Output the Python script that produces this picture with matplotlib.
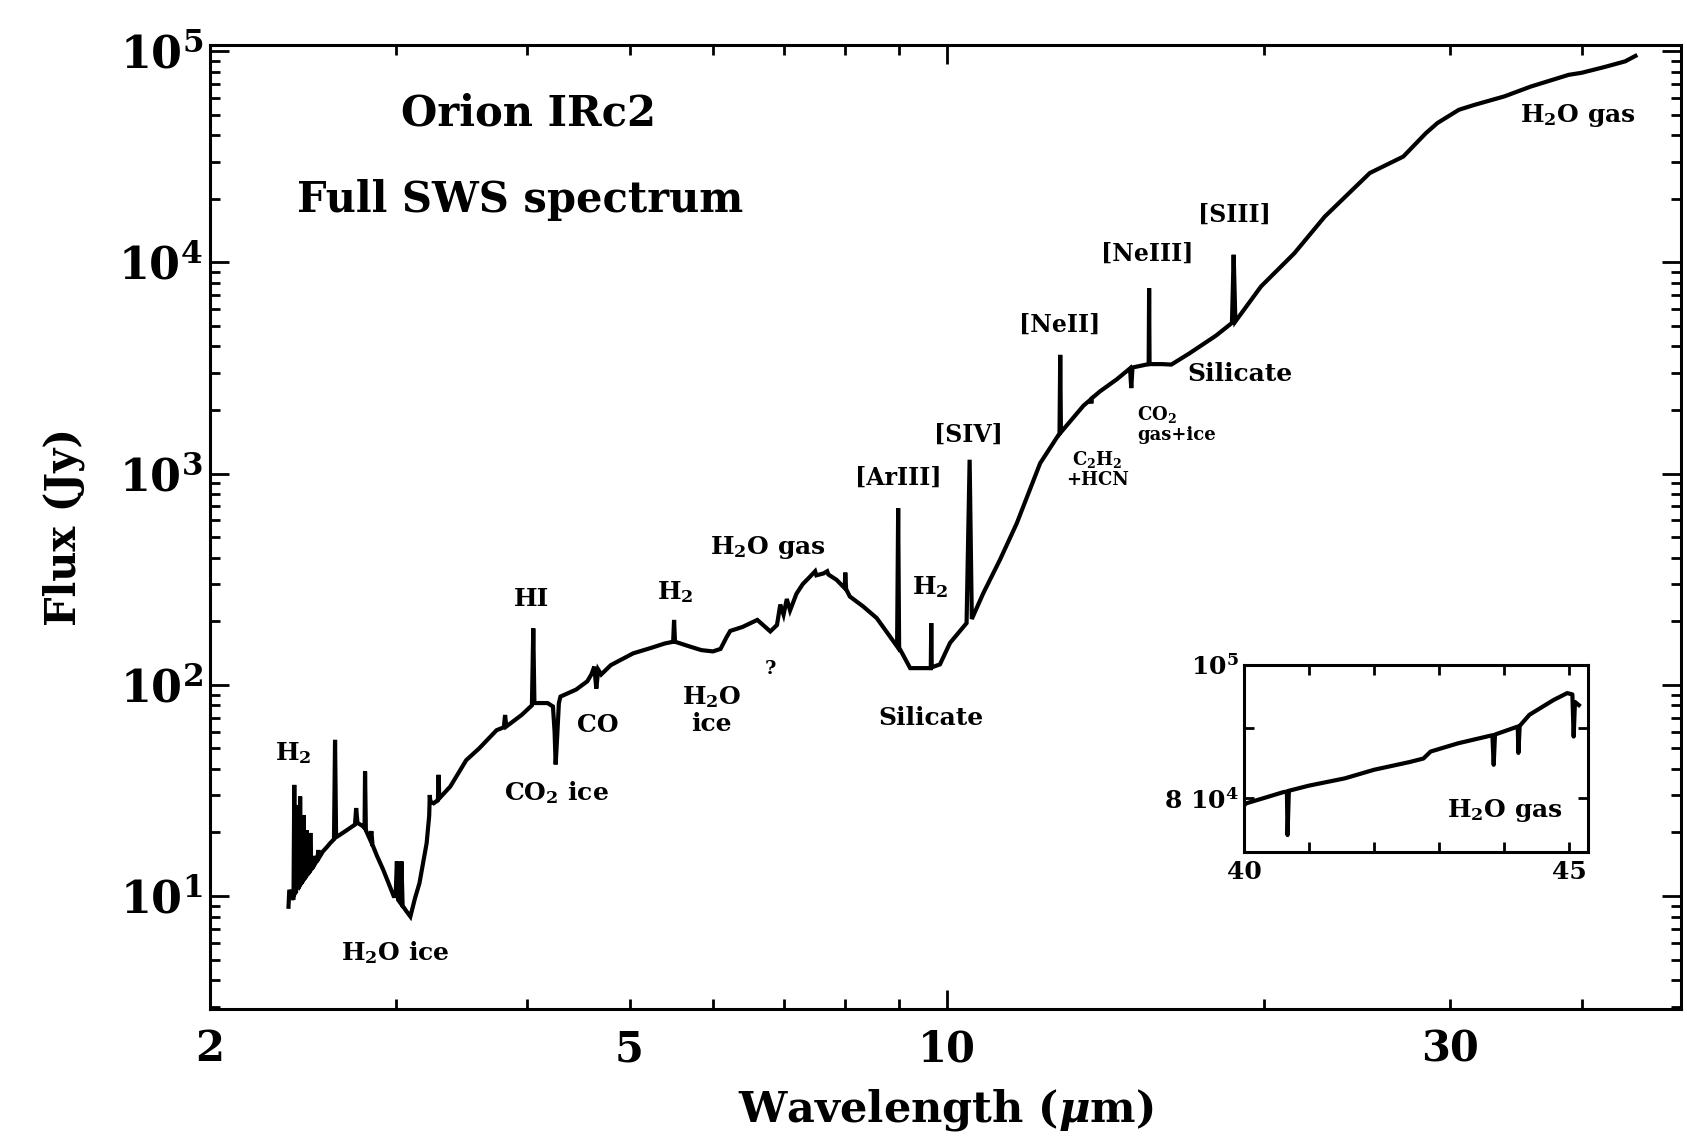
import matplotlib
matplotlib.use('Agg')
import matplotlib.pyplot as plt
from matplotlib.ticker import FixedLocator, FixedFormatter, NullFormatter, NullLocator

plt.rcParams['font.family'] = ['DejaVu Serif']
plt.rcParams['font.weight'] = 'bold'
plt.rcParams['axes.labelweight'] = 'bold'
plt.rcParams['mathtext.fontset'] = 'custom'
plt.rcParams['mathtext.rm'] = 'DejaVu Serif:bold'
plt.rcParams['mathtext.bf'] = 'DejaVu Serif:bold'
plt.rcParams['mathtext.it'] = 'DejaVu Serif:italic:bold'
plt.rcParams['mathtext.default'] = 'rm'

# ---------------- data ----------------
wavelength = [
    2.374, 2.378, 2.392, 2.400, 2.404, 2.408, 2.414, 2.418, 2.423, 2.430,
    2.435, 2.440, 2.447, 2.453, 2.458, 2.466, 2.470, 2.475, 2.486, 2.490,
    2.495, 2.505, 2.510, 2.515, 2.528, 2.534, 2.540, 2.560, 2.580, 2.600,
    2.622, 2.628, 2.634, 2.660, 2.700, 2.745, 2.752, 2.760, 2.790, 2.803,
    2.806, 2.811, 2.837, 2.845, 2.852, 2.880, 2.920, 2.960, 2.987, 3.000,
    3.008, 3.016, 3.030, 3.038, 3.046, 3.070, 3.098, 3.130, 3.160, 3.210,
    3.228, 3.232, 3.236, 3.260, 3.290, 3.295, 3.300, 3.380, 3.500, 3.600,
    3.740, 3.800, 3.810, 3.820, 3.950, 4.040, 4.052, 4.062, 4.180, 4.230,
    4.245, 4.255, 4.270, 4.285, 4.300, 4.450, 4.560, 4.600, 4.630, 4.650,
    4.670, 4.700, 4.800, 5.040, 5.250, 5.400, 5.500, 5.511, 5.522, 5.700,
    5.850, 6.000, 6.100, 6.180, 6.230, 6.400, 6.610, 6.800, 6.900, 6.950,
    7.000, 7.050, 7.100, 7.200, 7.300, 7.420, 7.500, 7.520, 7.640, 7.700,
    7.720, 7.860, 8.000, 8.010, 8.025, 8.090, 8.330, 8.580, 8.970, 8.991,
    9.010, 9.230, 9.570, 9.655, 9.665, 9.675, 9.850, 10.07, 10.44, 10.51,
    10.56, 10.83, 11.23, 11.65, 12.26, 12.79, 12.81, 12.83, 13.48, 13.70,
    13.71, 13.72, 13.97, 14.50, 14.92, 14.96, 15.00, 15.54, 15.555, 15.57,
    16.00, 16.33, 17.00, 18.00, 18.64, 18.71, 18.78, 19.86, 21.37, 22.83,
    25.19, 27.10, 28.47, 29.20, 30.60, 31.66, 33.80, 35.80, 38.90, 40.00,
    42.00, 44.00, 45.00,
]
flux = [
    8.9, 10.7, 10.0, 9.6, 33.6, 10.3, 10.5, 27.0, 10.8, 11.2,
    29.6, 11.5, 11.8, 24.2, 12.1, 12.4, 20.5, 12.7, 13.1, 19.9,
    13.4, 13.8, 15.5, 14.2, 14.8, 16.5, 15.3, 16.3, 17.0, 17.8,
    18.6, 54.9, 19.0, 19.6, 20.6, 21.8, 26.1, 22.2, 21.5, 21.0,
    38.9, 20.5, 18.5, 20.3, 17.5, 15.5, 13.3, 11.2, 10.0, 10.0,
    14.6, 9.6, 9.3, 14.6, 9.0, 8.5, 8.0, 9.8, 11.5, 17.8,
    24.0, 30.1, 28.0, 27.5, 28.5, 37.5, 29.0, 33.0, 44.0, 50.0,
    61.0, 63.0, 72.0, 63.5, 72.0, 80.0, 185.0, 82.0, 82.0, 79.0,
    60.0, 42.0, 58.0, 82.0, 88.0, 95.0, 104.0, 112.0, 122.0, 96.0,
    118.0, 112.0, 124.0, 141.0, 150.0, 157.0, 160.0, 203.0, 160.0, 152.0,
    146.0, 144.0, 148.0, 168.0, 180.0, 188.0, 203.0, 179.0, 192.0, 240.0,
    215.0, 255.0, 225.0, 270.0, 300.0, 326.0, 345.0, 330.0, 337.0, 345.0,
    333.0, 314.0, 287.0, 340.0, 284.0, 262.0, 235.0, 207.0, 152.0, 686.0,
    150.0, 120.0, 120.0, 120.0, 196.0, 121.0, 125.0, 158.0, 196.0, 1164.0,
    205.0, 272.0, 391.0, 582.0, 1120.0, 1550.0, 3650.0, 1570.0, 2100.0, 2250.0,
    2150.0, 2270.0, 2450.0, 2800.0, 3150.0, 2540.0, 3180.0, 3300.0, 7550.0, 3300.0,
    3300.0, 3283.0, 3720.0, 4500.0, 5170.0, 10870.0, 5250.0, 7690.0, 11070.0, 16480.0,
    26500.0, 31700.0, 40900.0, 45700.0, 52800.0, 55700.0, 61100.0, 68000.0, 77300.0, 79000.0,
    84000.0, 89500.0, 95000.0,
]

inset_wavelength = [
    40.00, 40.03, 40.30, 40.60, 40.66, 40.67, 40.69, 41.00, 41.55, 42.00,
    42.55, 42.76, 42.87, 43.29, 43.82, 43.84, 43.86, 44.21, 44.22, 44.24,
    44.39, 44.76, 44.97, 45.05, 45.07, 45.09, 45.15,
]
inset_flux = [
    79000, 79300, 80000, 80800, 80900, 75200, 81000, 81700, 82700, 83900,
    85000, 85500, 86500, 87700, 88900, 84600, 89000, 90200, 86300, 90300,
    92000, 94300, 95400, 95200, 88700, 94000, 93500,
]

x_tick_labels = ['2', '5', '10', '30']
y_tick_labels = [r'$10^{1}$', r'$10^{2}$', r'$10^{3}$', r'$10^{4}$', r'$10^{5}$']

# ---------------- figure ----------------
fig = plt.figure(figsize=(16.87, 11.36), dpi=100)
ax = fig.add_axes([0.1245, 0.1118, 0.8719, 0.8486])
ax.plot(wavelength, flux, color='black', lw=3.0, solid_joinstyle='miter')
ax.set_xscale('log')
ax.set_yscale('log')
ax.set_xlim(2, 49.7)
ax.set_ylim(2.92, 1.07e5)

ax.xaxis.set_major_locator(FixedLocator([10]))
ax.xaxis.set_major_formatter(FixedFormatter([x_tick_labels[2]]))
ax.xaxis.set_minor_locator(FixedLocator([2, 3, 4, 5, 6, 7, 8, 9, 20, 30, 40]))
ax.xaxis.set_minor_formatter(FixedFormatter([x_tick_labels[0], '', '', x_tick_labels[1],
                                             '', '', '', '', '', x_tick_labels[3], '']))
ax.yaxis.set_major_locator(FixedLocator([1e1, 1e2, 1e3, 1e4, 1e5]))
ax.yaxis.set_major_formatter(FixedFormatter(y_tick_labels))
yminor = [m * 10.0 ** e for e in range(0, 5) for m in range(2, 10)]
ax.yaxis.set_minor_locator(FixedLocator([v for v in yminor if 2.92 < v < 1.07e5]))
ax.yaxis.set_minor_formatter(NullFormatter())

ax.tick_params(which='both', direction='in', top=True, right=True, width=2,
               labelsize=30)
ax.tick_params(axis='y', which='both', labelsize=32)
ax.tick_params(which='major', length=14)
ax.tick_params(which='minor', length=7)
ax.tick_params(axis='x', which='both', pad=14)
ax.tick_params(axis='y', which='both', pad=5)
for s in ax.spines.values():
    s.set_linewidth(2.2)

ax.set_xlabel(r'Wavelength ($\mathit{\mu}$m)', fontsize=31, labelpad=12,
              fontweight='bold')
ax.set_ylabel('Flux (Jy)', fontsize=30, labelpad=24, fontweight='bold')

ax.text(0.1295, 0.9286, 'Orion IRc2', transform=ax.transAxes, fontsize=30,
        ha='left', va='center')
ax.text(0.0593, 0.839, 'Full SWS spectrum', transform=ax.transAxes, fontsize=30,
        ha='left', va='center')

annotations = [
    ('H$_2$', 2.40, 47.6, 18, 'center'),
    ('H$_2$O ice', 3.00, 5.43, 18, 'center'),
    ('HI', 4.04, 255, 18, 'center'),
    ('CO$_2$ ice', 4.26, 30.8, 18, 'center'),
    ('CO', 4.67, 64.6, 18, 'center'),
    ('H$_2$', 5.52, 276, 18, 'center'),
    ('H$_2$O\nice', 5.98, 76, 18, 'center'),
    ('?', 6.80, 119, 14, 'center'),
    ('H$_2$O gas', 6.77, 447, 18, 'center'),
    ('[ArIII]', 9.00, 959, 17, 'center'),
    ('H$_2$', 9.65, 290, 18, 'center'),
    ('[SIV]', 10.48, 1532, 17, 'center'),
    ('Silicate', 9.67, 69.3, 18, 'center'),
    ('[NeII]', 12.80, 5070, 17, 'center'),
    ('C$_2$H$_2$\n+HCN', 13.89, 1053, 13, 'center'),
    ('CO$_2$\ngas+ice', 15.16, 1723, 13, 'left'),
    ('[NeIII]', 15.48, 11000, 17, 'center'),
    ('Silicate', 18.99, 2956, 18, 'center'),
    ('[SIII]', 18.73, 16780, 17, 'center'),
    ('H$_2$O gas', 39.7, 49350, 18, 'center'),
]
for txt, xx, yy, fs, ha in annotations:
    ax.text(xx, yy, txt, fontsize=fs, ha=ha, va='center', multialignment=ha,
            linespacing=1.1)

# ---------------- inset ----------------
axin = fig.add_axes([0.7374, 0.25, 0.2039, 0.1646])
axin.plot(inset_wavelength, inset_flux, color='black', lw=3.0)
axin.set_yscale('log')
axin.set_xlim(40, 45.29)
axin.set_ylim(7.31e4, 1e5)
axin.xaxis.set_major_locator(FixedLocator([40, 41, 42, 43, 44, 45]))
axin.xaxis.set_major_formatter(FixedFormatter(['40', '', '', '', '', '45']))
axin.xaxis.set_minor_locator(NullLocator())
axin.yaxis.set_major_locator(FixedLocator([8e4, 9e4, 1e5]))
axin.yaxis.set_major_formatter(FixedFormatter([r'8 $10^{4}$', '', r'$10^{5}$']))
axin.yaxis.set_minor_locator(NullLocator())
axin.yaxis.set_minor_formatter(NullFormatter())
axin.tick_params(which='both', direction='in', top=True, right=True, width=2,
                 length=7, labelsize=18)
axin.tick_params(axis='x', pad=6)
axin.tick_params(axis='y', pad=4)
for s in axin.spines.values():
    s.set_linewidth(2.2)
axin.text(0.76, 0.22, 'H$_2$O gas', transform=axin.transAxes, fontsize=18,
          ha='center', va='center')

fig.savefig('out.png', dpi=100)
